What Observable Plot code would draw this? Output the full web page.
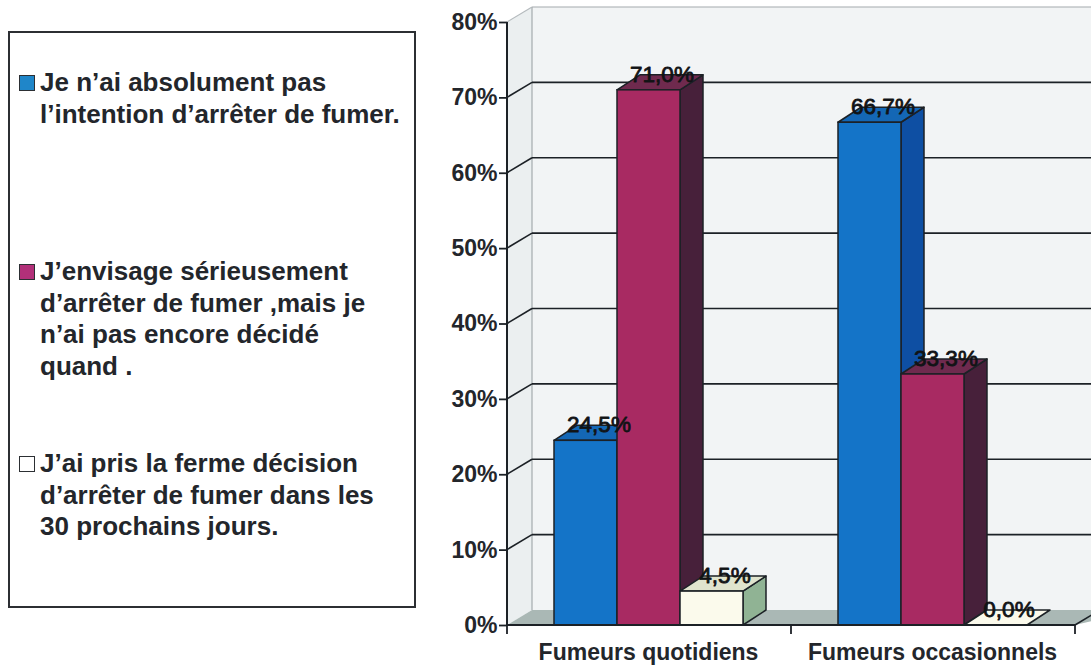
<!DOCTYPE html>
<html lang="fr">
<head>
<meta charset="utf-8">
<script src="https://cdn.jsdelivr.net/npm/d3@7"></script>
<script src="https://cdn.jsdelivr.net/npm/@observablehq/plot@0.6"></script>
<style>
html,body{margin:0;padding:0;background:#fff;overflow:hidden}
#wrap{position:relative;width:1091px;height:669px;font-family:"Liberation Sans",Arial,sans-serif}
#legend{position:absolute;left:8px;top:31px;width:404px;height:573px;border:2px solid #2c2f33;background:#fff}
.entry{position:absolute;left:30px;font-weight:bold;font-size:26px;line-height:31.6px;color:#23262b;white-space:pre}
.swatch{position:absolute;left:-21px;top:8px;width:14px;height:14px;border:1.5px solid #2c2f33}
</style>
</head>
<body>
<div id="wrap"><div id="legend"></div></div>
<script>
const categories = ["Fumeurs quotidiens", "Fumeurs occasionnels"];
const series = [
  "Je n’ai absolument pas\nl’intention d’arrêter de fumer.",
  "J’envisage sérieusement\nd’arrêter de fumer ,mais je\nn’ai pas encore décidé\nquand .",
  "J’ai pris la ferme décision\nd’arrêter de fumer dans les\n30 prochains jours."
];
const quotidiens = [0.245, 0.71, 0.045];
const occasionnels = [0.667, 0.333, 0];
const yTicks = [0, 0.1, 0.2, 0.3, 0.4, 0.5, 0.6, 0.7, 0.8];

const frontColors = ["#1474c8", "#a82a62", "#fbfaec"];
const sideColors = ["#0e4fa3", "#47203a", "#90b394"];
const topColors = ["#1467b5", "#6f2a4e", "#e0e4cd"];
const legendColors = ["#1f86c9", "#b23079", "#ffffff"];
const legendTops = [34, 223, 415];

const rows = categories.flatMap((category, c) =>
  series.map((name, s) => ({category, name, value: (c === 0 ? quotidiens : occasionnels)[s]}))
);

const marginLeft = 507;
const depthX = 23, depthY = -15;
const wallX = 25, wallY = -15;
const ink = "#1c2126";
const svgNS = "http://www.w3.org/2000/svg";
function shape(tag, attrs) {
  const el = document.createElementNS(svgNS, tag);
  for (const k in attrs) el.setAttribute(k, attrs[k]);
  return el;
}
const pts = (...p) => p.map(q => q.join(",")).join(" ");

function drawWalls(index, scales, values, dims) {
  const g = shape("g", {});
  const y = scales.y;
  const L = dims.marginLeft, R = dims.width - dims.marginRight;
  const y0 = y(0), yT = y(d3.max(yTicks));
  const far = R + wallX + 40;
  const parts = [
    shape("polygon", {points: pts([L+wallX,yT+wallY],[far,yT+wallY],[far,y0+wallY],[L+wallX,y0+wallY]), fill:"#f2f4f5"}),
    shape("polygon", {points: pts([L,yT],[L+wallX,yT+wallY],[L+wallX,y0+wallY],[L,y0]), fill:"#ebeff0"}),
    shape("polygon", {points: pts([L,y0],[L+wallX,y0+wallY],[far,y0+wallY],[R,y0]), fill:"#aab8b5"}),
    shape("line", {x1:L+wallX,y1:yT+wallY,x2:L+wallX,y2:y0+wallY,stroke:"#a4aaad","stroke-width":1.2}),
    shape("line", {x1:L+wallX,y1:yT+wallY,x2:far,y2:yT+wallY,stroke:"#a4aaad","stroke-width":1.2}),
    shape("line", {x1:L,y1:yT,x2:L+wallX,y2:yT+wallY,stroke:"#b4babd","stroke-width":1.2})
  ];
  for (const t of yTicks.slice(1, -1)) {
    parts.push(shape("line", {x1:L,y1:y(t),x2:L+wallX,y2:y(t)+wallY,stroke:ink,"stroke-width":1.6}));
    parts.push(shape("line", {x1:L+wallX,y1:y(t)+wallY,x2:far,y2:y(t)+wallY,stroke:ink,"stroke-width":1.6}));
  }
  parts.forEach(el => g.appendChild(el));
  return g;
}

function drawAxes(index, scales, values, dims) {
  const g = shape("g", {});
  const y = scales.y;
  const L = dims.marginLeft, R = dims.width - dims.marginRight;
  const y0 = y(0);
  g.appendChild(shape("line", {x1:L,y1:y(d3.max(yTicks)),x2:L,y2:y0,stroke:ink,"stroke-width":2}));
  g.appendChild(shape("line", {x1:L,y1:y0,x2:R,y2:y0,stroke:ink,"stroke-width":2}));
  g.appendChild(shape("line", {x1:R,y1:y0,x2:R+wallX,y2:y0+wallY,stroke:ink,"stroke-width":1.6}));
  const step = (R - L) / categories.length;
  categories.concat("end").forEach((_, i) => {
    g.appendChild(shape("line", {x1:L+i*step,y1:y0,x2:L+i*step,y2:y0+9,stroke:ink,"stroke-width":1.8}));
  });
  return g;
}

function drawDepth(index, scales, values, dims, context, next) {
  const g = next(index, scales, values, dims, context);
  g.querySelectorAll("rect").forEach(rect => {
    const x = +rect.getAttribute("x"), y = +rect.getAttribute("y");
    const w = +rect.getAttribute("width"), h = +rect.getAttribute("height");
    const s = frontColors.indexOf(rect.getAttribute("fill"));
    const common = {stroke: ink, "stroke-width": 1.5, "stroke-linejoin": "round"};
    if (h > 0) rect.parentNode.insertBefore(shape("polygon", {
      points: pts([x+w,y],[x+w+depthX,y+depthY],[x+w+depthX,y+h+depthY],[x+w,y+h]),
      fill: sideColors[s], ...common}), rect);
    rect.parentNode.insertBefore(shape("polygon", {
      points: pts([x,y],[x+depthX,y+depthY],[x+w+depthX,y+depthY],[x+w,y]),
      fill: h > 0 ? topColors[s] : frontColors[s], ...common}), rect);
  });
  return g;
}

const fr = d3.format(".1%");
const label = v => fr(v).replace(".", ",");

const plot = Plot.plot({
  width: 1091,
  height: 669,
  marginLeft,
  marginRight: 16,
  marginTop: 22,
  marginBottom: 44,
  style: {fontFamily: "Liberation Sans, Arial, sans-serif", fontWeight: "bold", color: "#23262b", background: "transparent"},
  fx: {domain: categories, padding: 0, label: null},
  x: {domain: series, range: [marginLeft + 46, marginLeft + 236.5], padding: 0, axis: null},
  y: {domain: [0, 0.8], axis: null},
  color: {domain: series, range: frontColors},
  marks: [
    Plot.frame({facet: "super", stroke: "none", render: drawWalls}),
    Plot.barY(rows, {fx: "category", x: "name", y: "value", fill: "name", stroke: ink, strokeWidth: 1.5, render: drawDepth}),
    Plot.frame({facet: "super", stroke: "none", render: drawAxes}),
    Plot.axisY({ticks: yTicks, tickFormat: d3.format(".0%"), tickSize: 8, tickPadding: 2, fontSize: 23, stroke: ink, strokeWidth: 1.8, label: null}),
    Plot.axisFx({anchor: "bottom", tickSize: 0, tickPadding: 18, fontSize: 23, dx: -1, label: null}),
    Plot.text(rows, {fx: "category", x: "name", y: "value", text: d => label(d.value), dx: 13, dy: -16, fontSize: 22.5, fontWeight: "normal", fill: "#111315", stroke: "#111315", strokeWidth: 0.8})
  ]
});
document.getElementById("wrap").prepend(plot);

const legend = document.getElementById("legend");
series.forEach((name, i) => {
  const entry = document.createElement("div");
  entry.className = "entry";
  entry.style.top = legendTops[i] + "px";
  entry.textContent = name;
  const swatch = document.createElement("div");
  swatch.className = "swatch";
  swatch.style.background = legendColors[i];
  entry.appendChild(swatch);
  legend.appendChild(entry);
});
</script>
</body>
</html>
